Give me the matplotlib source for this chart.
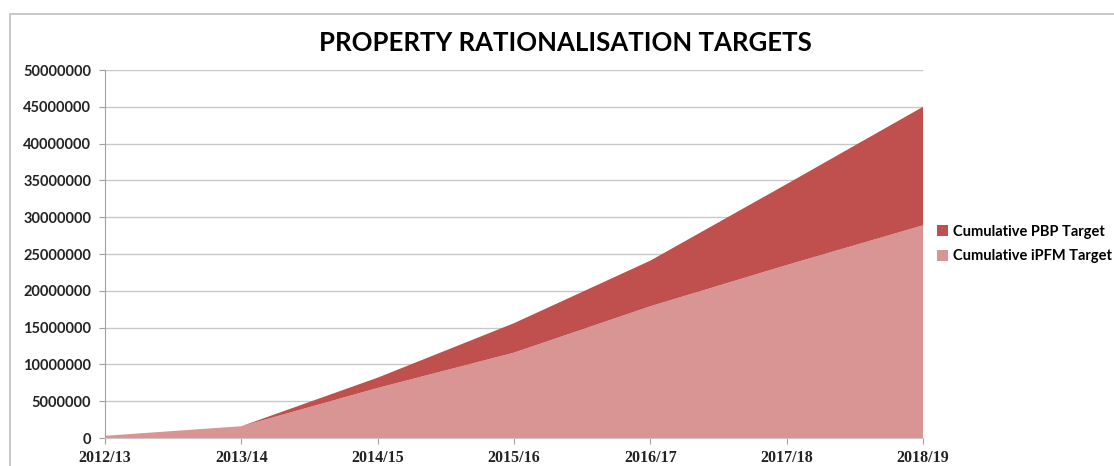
import matplotlib
matplotlib.use("Agg")
import matplotlib.pyplot as plt
from matplotlib.patches import Rectangle

years = ["2012/13", "2013/14", "2014/15", "2015/16", "2016/17", "2017/18", "2018/19"]
ipfm = [300000, 1600000, 6800000, 11600000, 17900000, 23500000, 28900000]
pbp = [0, 0, 1400000, 4000000, 6200000, 11000000, 16100000]
yticks = list(range(0, 50000001, 5000000))

dark = "#C0504D"
light = "#D99594"

fig = plt.figure(figsize=(11.14, 4.66), dpi=100)
fig.patches.append(Rectangle((10/1114, -0.1), 1.2, 1 - 14/466 + 0.1, transform=fig.transFigure,
                             fill=False, edgecolor="#BFBFBF", linewidth=1.2))
ax = fig.add_axes([105/1114, 1 - 438/466, (923 - 105)/1114, (438 - 70)/466])

x = list(range(len(years)))
ax.stackplot(x, ipfm, pbp, colors=[light, dark], labels=["Cumulative iPFM Target", "Cumulative PBP Target"],
             linewidth=0)
ax.set_xlim(0, len(years) - 1)
ax.set_ylim(0, 50000000)
ax.set_yticks(yticks)
ax.set_yticklabels([str(v) for v in yticks], fontsize=10.5, fontweight="bold", family="Lato")
ax.set_xticks(x)
ax.set_xticklabels(years, fontsize=11.5, fontweight="bold", family="Liberation Serif")
ax.yaxis.grid(True, color="#C8C8C8", linewidth=1)
ax.set_axisbelow(True)
for s in ["top", "right"]:
    ax.spines[s].set_visible(False)
ax.spines["left"].set_color("#A0A0A0")
ax.spines["bottom"].set_color("#C8C8C8")
ax.tick_params(axis="both", colors="#A0A0A0", length=4, labelcolor="#222222")
ax.tick_params(axis="y", pad=6)
ax.tick_params(axis="x", pad=5)

fig.text(565/1114, 1 - 43/466, "PROPERTY RATIONALISATION TARGETS", ha="center", va="center",
         fontsize=18.5, fontweight="bold", family="Lato")

h, l = ax.get_legend_handles_labels()
leg = fig.legend(h[::-1], l[::-1], loc="center left", bbox_to_anchor=(930/1114, 1 - 244/466),
                 frameon=False, prop={"family": "Lato", "weight": "bold", "size": 10.5},
                 handlelength=0.75, handleheight=0.75, handletextpad=0.3, labelspacing=0.75, borderpad=0)
fig.savefig("out.png", dpi=100, facecolor="white")
